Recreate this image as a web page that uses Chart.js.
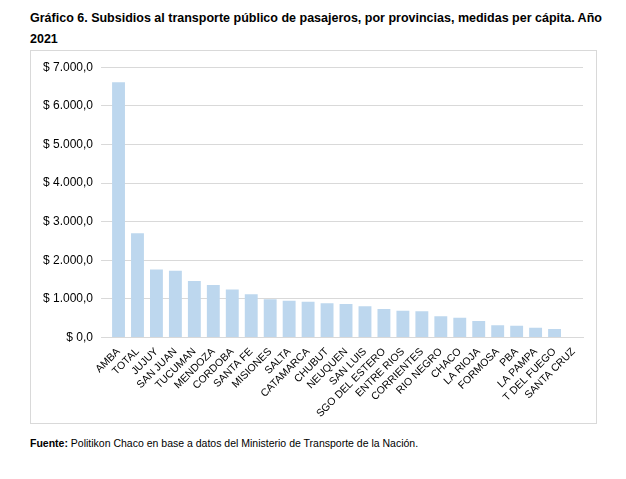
<!DOCTYPE html>
<html><head><meta charset="utf-8">
<script src="https://cdn.jsdelivr.net/npm/chart.js@4"></script>
<style>
body{margin:0;background:#fff;font-family:"Liberation Sans",Arial,sans-serif;}
#t{position:absolute;left:30px;top:8px;width:580px;font-weight:bold;font-size:12.5px;line-height:21px;color:#000}
#f{position:absolute;left:30px;top:437px;font-size:10.5px;color:#000}
#box{position:absolute;left:30px;top:50px;width:565px;height:372px;border:1px solid #d9d9d9}
#w{position:absolute;left:31px;top:52px;width:560px;height:368px}
</style></head><body>
<div id="t">Gráfico 6. Subsidios al transporte público de pasajeros, por provincias, medidas per cápita. Año 2021</div>
<div id="box"></div>
<div id="w"><canvas id="c"></canvas></div>
<div id="f"><b>Fuente:</b> Politikon Chaco en base a datos del Ministerio de Transporte de la Nación.</div>
<script>
const categories=["AMBA","TOTAL","JUJUY","SAN JUAN","TUCUMAN","MENDOZA","CORDOBA","SANTA FE","MISIONES","SALTA","CATAMARCA","CHUBUT","NEUQUEN","SAN LUIS","SGO DEL ESTERO","ENTRE RIOS","CORRIENTES","RIO NEGRO","CHACO","LA RIOJA","FORMOSA","PBA","LA PAMPA","T DEL FUEGO","SANTA CRUZ"];
const values=[6610,2700,1760,1730,1460,1360,1240,1120,990,950,925,885,870,810,740,690,680,550,510,425,315,305,255,220,0];
new Chart(document.getElementById('c'),{type:'bar',
data:{labels:categories,datasets:[{data:values,backgroundColor:'#bdd7ee',barPercentage:0.68,categoryPercentage:1}]},
options:{responsive:true,maintainAspectRatio:false,animation:false,
layout:{padding:{top:12,right:8,left:4,bottom:0}},
plugins:{legend:{display:false},tooltip:{enabled:false}},
scales:{x:{grid:{display:false},border:{color:'#d9d9d9'},ticks:{color:'#000',font:{family:'Liberation Sans',size:10.5},maxRotation:45,minRotation:45,autoSkip:false,padding:0}},
y:{min:0,max:7000,grid:{color:'#d9d9d9'},border:{display:false},ticks:{stepSize:1000,padding:8,color:'#000',font:{family:'Liberation Sans',size:12},
callback:v=>'$ '+v.toLocaleString('de-DE',{minimumFractionDigits:1,maximumFractionDigits:1})}}}}});
</script></body></html>
